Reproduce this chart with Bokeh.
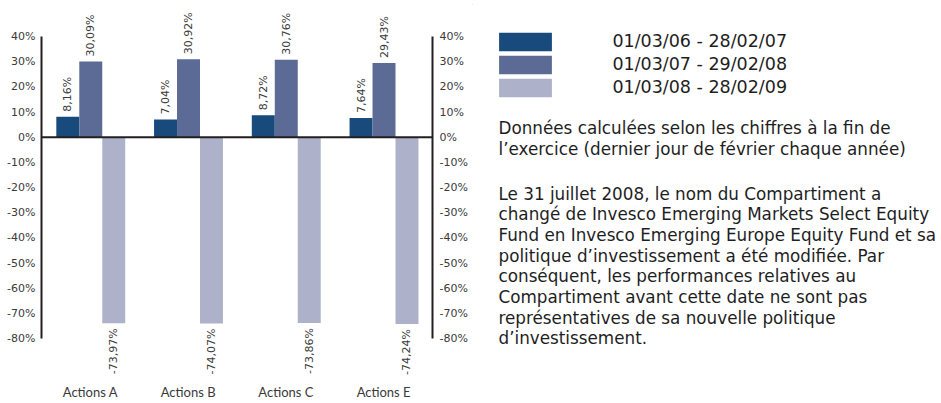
import math
from bokeh.plotting import figure
from bokeh.layouts import row
from bokeh.models import (ColumnDataSource, FactorRange, LinearAxis, Range1d, FixedTicker,
                          Span, Legend, LegendItem, LabelSet, Label)
from bokeh.core.properties import value
from bokeh.transform import dodge
from bokeh.embed import file_html
from bokeh.resources import INLINE

# ---------------- data ----------------
categories = ["Actions A", "Actions B", "Actions C", "Actions E"]
period_labels = ["01/03/06 - 28/02/07", "01/03/07 - 29/02/08", "01/03/08 - 28/02/09"]
perf_0607 = [8.16, 7.04, 8.72, 7.64]
perf_0708 = [30.09, 30.92, 30.76, 29.43]
perf_0809 = [-73.97, -74.07, -73.86, -74.24]
y_ticks = [40, 30, 20, 10, 0, -10, -20, -30, -40, -50, -60, -70, -80]
y_tick_labels = ["40%", "30%", "20%", "10%", "0%", "-10%", "-20%", "-30%", "-40%",
                 "-50%", "-60%", "-70%", "-80%"]
note_para1 = ["Données calculées selon les chiffres à la fin de",
              "l’exercice (dernier jour de février chaque année)"]
note_para2 = ["Le 31 juillet 2008, le nom du Compartiment a",
              "changé de Invesco Emerging Markets Select Equity",
              "Fund en Invesco Emerging Europe Equity Fund et sa",
              "politique d’investissement a été modifiée. Par",
              "conséquent, les performances relatives au",
              "Compartiment avant cette date ne sont pas",
              "représentatives de sa nouvelle politique",
              "d’investissement."]

series = [perf_0607, perf_0708, perf_0809]
colors = ["#184a7c", "#5b6b95", "#adb2ca"]
offsets = [-0.231, 0.004, 0.239]
bar_w = 0.235
TXT = "#1e1e1e"
LBL = "#3a3a3a"

def fmt(v):
    return ("%.2f" % v).replace(".", ",") + "%"

# ---------------- layout (page pixels) ----------------
H = 403
FRAME_L, FRAME_R = 41, 432
FRAME_T, FRAME_B = 4, 380
Y_MAX, Y_MIN = 40, -80
PX_MAX, PX_MIN = 36, 338          # page y of 40% and -80%
PX_PER = (PX_MIN - PX_MAX) / (Y_MAX - Y_MIN)
y_end = Y_MAX + (PX_MAX - FRAME_T) / PX_PER
y_start = Y_MAX - (FRAME_B - PX_MAX) / PX_PER
W1 = 472
W2 = 941 - W1

p = figure(width=W1, height=H, x_range=FactorRange(factors=categories, range_padding=0),
           y_range=Range1d(y_start, y_end), output_backend="svg", toolbar_location=None,
           title=None,
           min_border_left=FRAME_L, min_border_right=W1 - FRAME_R,
           min_border_top=FRAME_T, min_border_bottom=H - FRAME_B)
p.outline_line_color = None
p.xgrid.visible = False
p.ygrid.visible = False
p.background_fill_color = "white"
p.border_fill_color = "white"

cols = {"cat": categories}
for i, s in enumerate(series):
    cols["v%d" % i] = s
    cols["t%d" % i] = [fmt(v) for v in s]
src = ColumnDataSource(cols)

for i in range(3):
    p.vbar(x=dodge("cat", offsets[i], range=p.x_range), top="v%d" % i, bottom=0,
           width=bar_w, fill_color=colors[i], line_color=None, source=src)

p.add_layout(Span(location=0, dimension="width", line_color="#231f20", line_width=2))

# value labels
for i, s in enumerate(series):
    neg = s[0] < 0
    ls = LabelSet(x=dodge("cat", offsets[i], range=p.x_range), y="v%d" % i, text="t%d" % i,
                  source=src, angle=math.pi / 2, text_align="right" if neg else "left",
                  text_baseline="middle", y_offset=-5 if neg else 5,
                  text_font=value("DejaVu Sans"), text_font_size=value("11px"),
                  text_color=LBL)
    p.add_layout(ls)

# axes
tick_map = {t: l for t, l in zip(y_ticks, y_tick_labels)}

def style_y(ax):
    ax.ticker = FixedTicker(ticks=y_ticks)
    ax.bounds = (Y_MIN, Y_MAX)
    ax.major_label_overrides = tick_map
    ax.axis_line_color = "#231f20"
    ax.axis_line_width = 2
    ax.major_tick_line_color = None
    ax.minor_tick_line_color = None
    ax.major_tick_out = 0
    ax.major_tick_in = 0
    ax.major_label_text_font = "DejaVu Sans"
    ax.major_label_text_font_size = "11px"
    ax.major_label_text_color = LBL

style_y(p.yaxis[0])
p.yaxis[0].major_label_standoff = 6
right_ax = LinearAxis()
style_y(right_ax)
right_ax.major_label_standoff = 7
p.add_layout(right_ax, "right")

xa = p.xaxis[0]
xa.axis_line_color = None
xa.major_tick_line_color = None
xa.minor_tick_line_color = None
xa.major_tick_out = 0
xa.major_tick_in = 0
xa.major_label_standoff = 3
xa.major_label_text_font = "Lato"
xa.major_label_text_font_size = "13px"
xa.major_label_text_color = LBL

# ---------------- side panel: legend and note ----------------
# same vertical borders as the chart, data units = page pixels
q = figure(width=W2, height=H, x_range=Range1d(W1, 941), y_range=Range1d(FRAME_B, FRAME_T),
           x_axis_location=None, y_axis_location=None, title=None,
           output_backend="svg", toolbar_location=None,
           min_border_left=0, min_border_right=0, min_border_top=FRAME_T,
           min_border_bottom=H - FRAME_B)
q.xgrid.visible = False
q.ygrid.visible = False
q.outline_line_color = None
q.background_fill_color = "white"
q.border_fill_color = "white"

# legend proxies (kept outside the visible range)
swatches = [q.vbar(x=[0], top=[0], bottom=[0], width=1, fill_color=colors[i], line_color=None)
            for i in range(3)]
# area legend glyphs are inset by 10% on each side
GW, GH = 66, 23
ITEM_H, SP = 24, -1
LEG_X = 499 - 0.1 * GW
LEG_TOP = 31 - 0.1 * GH
leg_h = 3 * ITEM_H + 2 * SP
legend = Legend(items=[LegendItem(label=period_labels[i], renderers=[swatches[i]]) for i in range(3)],
                location=(LEG_X - W1, FRAME_B - LEG_TOP - leg_h), glyph_width=GW, glyph_height=GH,
                label_standoff=int(round(612 - (LEG_X + GW))), label_height=20, spacing=SP,
                padding=0, margin=0,
                border_line_color=None, background_fill_alpha=0,
                label_text_font="DejaVu Sans", label_text_font_size="17.5px",
                label_text_color=TXT)
q.add_layout(legend, "center")

NOTE_FONT = "DejaVu Sans"
NOTE_SIZE = "16.8px"
base1 = [127.5, 148.5]
for k, line in enumerate(note_para1):
    q.add_layout(Label(x=498, y=base1[k], text=line, text_baseline="alphabetic",
                       text_font=NOTE_FONT, text_font_size=NOTE_SIZE, text_color=TXT))
for k, line in enumerate(note_para2):
    q.add_layout(Label(x=498, y=193 + 20.7 * k, text=line, text_baseline="alphabetic",
                       text_font=NOTE_FONT, text_font_size=NOTE_SIZE, text_color=TXT))

layout = row(p, q, spacing=0)
open("out.html", "w").write(file_html(layout, INLINE))
